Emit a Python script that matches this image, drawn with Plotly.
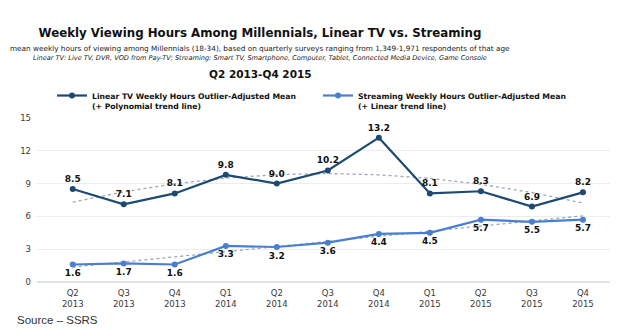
import numpy as np
import plotly.graph_objects as go

quarters = ["Q2<br>2013", "Q3<br>2013", "Q4<br>2013", "Q1<br>2014", "Q2<br>2014", "Q3<br>2014",
            "Q4<br>2014", "Q1<br>2015", "Q2<br>2015", "Q3<br>2015", "Q4<br>2015"]
linear_tv = [8.5, 7.1, 8.1, 9.8, 9.0, 10.2, 13.2, 8.1, 8.3, 6.9, 8.2]
streaming = [1.6, 1.7, 1.6, 3.3, 3.2, 3.6, 4.4, 4.5, 5.7, 5.5, 5.7]
y_ticks = [0, 3, 6, 9, 12, 15]

x = np.arange(len(quarters))

# Trend lines fitted to the series: quadratic for linear TV, straight for streaming
tv_fit = np.polyval(np.polyfit(x, linear_tv, 2), x)
st_fit = np.polyval(np.polyfit(x, streaming, 1), x)

TV_COLOR = "#1e4a72"
ST_COLOR = "#4a7fd0"
TREND_COLOR = "#9aa8b8"
FONT = "DejaVu Sans"

fig = go.Figure()

fig.add_trace(go.Scatter(
    x=x, y=tv_fit, mode="lines", showlegend=False, hoverinfo="skip",
    line=dict(color=TREND_COLOR, width=1.3, dash="dot"),
))
fig.add_trace(go.Scatter(
    x=x, y=st_fit, mode="lines", showlegend=False, hoverinfo="skip",
    line=dict(color=TREND_COLOR, width=1.3, dash="dot"),
))

fig.add_trace(go.Scatter(
    x=x, y=linear_tv, mode="lines+markers+text",
    name="Linear TV Weekly Hours Outlier-Adjusted Mean<br>(+ Polynomial trend line)",
    line=dict(color=TV_COLOR, width=2.2),
    marker=dict(color=TV_COLOR, size=6),
    text=[f"{v:.1f}" for v in linear_tv], textposition="top center",
    textfont=dict(family=FONT, size=9, color="#111", weight="bold"),
))
fig.add_trace(go.Scatter(
    x=x, y=streaming, mode="lines+markers+text",
    name="Streaming Weekly Hours Outlier-Adjusted Mean<br>(+ Linear trend line)",
    line=dict(color=ST_COLOR, width=2.2),
    marker=dict(color=ST_COLOR, size=6),
    text=[f"{v:.1f}" for v in streaming], textposition="bottom center",
    textfont=dict(family=FONT, size=9, color="#111", weight="bold"),
))

header = [
    ("mean weekly hours of viewing among Millennials (18-34), based on quarterly surveys ranging from 1,349-1,971 respondents of that age",
     48, dict(size=7.3, color="#222")),
    ("<i>Linear TV: Live TV, DVR, VOD from Pay-TV; Streaming: Smart TV, Smartphone, Computer, Tablet, Connected Media Device, Game Console</i>",
     58, dict(size=6.6, color="#222")),
    ("<b>Q2 2013-Q4 2015</b>", 74, dict(size=10.5, color="#111")),
]

L, R, T, B = 37, 18, 118, 47
W, H = 628, 329
pw, ph = W - L - R, H - T - B


def px_to_paper(px, py):
    return (px - L) / pw, (H - B - py) / ph


annotations = []
for text, py, f in header:
    ax, ay = px_to_paper(260, py)
    annotations.append(dict(text=text, x=ax, y=ay, xref="paper", yref="paper",
                            showarrow=False, xanchor="center", yanchor="middle",
                            font=dict(family=FONT, **f)))
sx, sy = px_to_paper(15, 320)
annotations.append(dict(text="Source – SSRS", x=sx, y=sy, xref="paper", yref="paper",
                        showarrow=False, xanchor="left", yanchor="middle",
                        font=dict(family="Liberation Sans", size=11.5, color="#333")))

lx, _ = px_to_paper(52, 0)

fig.update_layout(
    width=W, height=H,
    margin=dict(l=L, r=R, t=T, b=B),
    paper_bgcolor="white", plot_bgcolor="white",
    title=dict(text="<b>Weekly Viewing Hours Among Millennials, Linear TV vs. Streaming</b>",
               x=260 / W, xanchor="center", xref="container",
               y=1 - 33 / H, yanchor="middle", yref="container",
               font=dict(family=FONT, size=11.8, color="#111")),
    legend=dict(orientation="h", x=lx, xanchor="left", y=1.0, yanchor="bottom",
                entrywidth=221, entrywidthmode="pixels", valign="top",
                font=dict(family=FONT, size=7.7, color="#111", weight="bold"),
                itemwidth=30, tracegroupgap=0, bgcolor="rgba(0,0,0,0)"),
    annotations=annotations,
    xaxis=dict(range=[-0.7, 10.53], tickvals=list(x), ticktext=quarters,
               showgrid=False, zeroline=False, showline=False, ticks="",
               ticklabelstandoff=4,
               tickfont=dict(family=FONT, size=8.5, color="#3a3a3a")),
    yaxis=dict(range=[0, 15], tickvals=y_ticks, showgrid=True, gridcolor="#ececec",
               gridwidth=1, zeroline=True, zerolinecolor="#e2e2e2", showline=False,
               ticks="", ticklabelstandoff=5,
               tickfont=dict(family=FONT, size=8.5, color="#3a3a3a")),
)

fig.write_html("out.html")
